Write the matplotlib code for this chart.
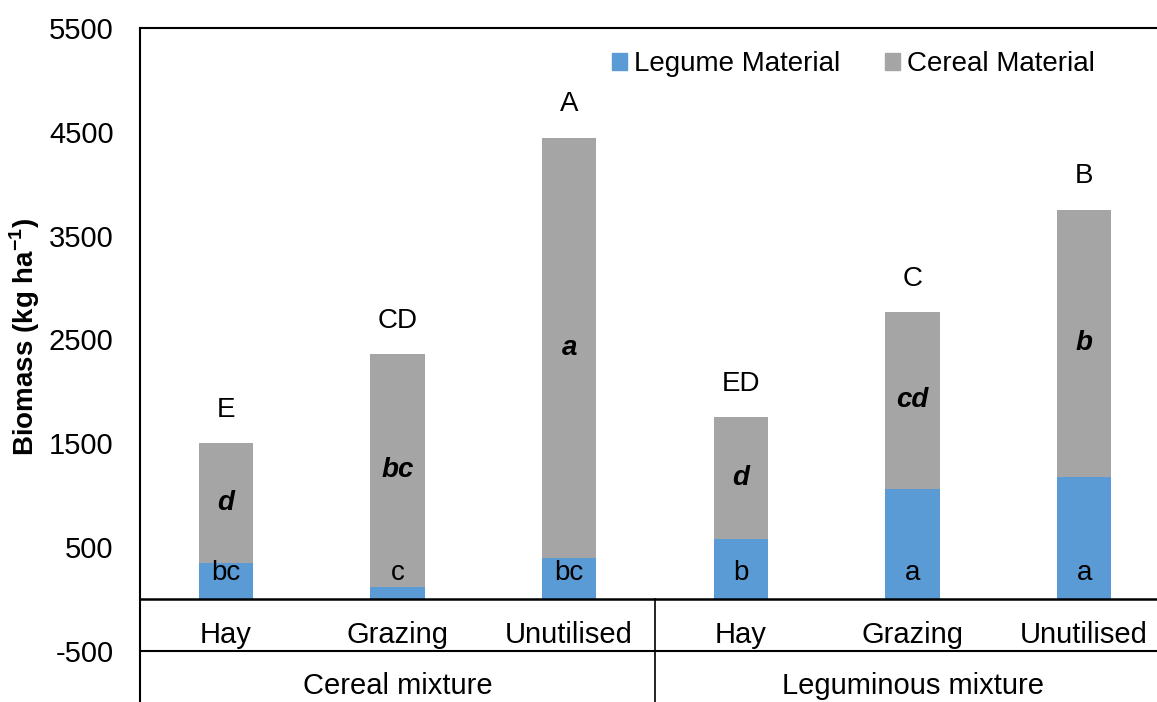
import matplotlib
matplotlib.use('Agg')
import matplotlib.pyplot as plt
from matplotlib.patches import Patch
import numpy as np

plt.rcParams['font.family'] = ['Liberation Sans', 'DejaVu Sans']
plt.rcParams['axes.unicode_minus'] = False
plt.rcParams['mathtext.fontset'] = 'custom'
plt.rcParams['mathtext.rm'] = 'Liberation Sans'
plt.rcParams['mathtext.bf'] = 'Liberation Sans:bold'

# biomass per treatment (kg/ha)
treatments = ['Hay', 'Grazing', 'Unutilised', 'Hay', 'Grazing', 'Unutilised']
groups = ['Cereal mixture', 'Leguminous mixture']
legume = [350, 120, 400, 580, 1065, 1180]
cereal = [1150, 2240, 4045, 1175, 1700, 2570]

# significance letters
total_letters = ['E', 'CD', 'A', 'ED', 'C', 'B']
cereal_letters = ['d', 'bc', 'a', 'd', 'cd', 'b']
legume_letters = ['bc', 'c', 'bc', 'b', 'a', 'a']

blue = '#5B9BD5'
grey = '#A5A5A5'
fs = 21

W, H = 1157, 702
fig = plt.figure(figsize=(W / 100, H / 100), dpi=100)
ax = fig.add_axes([140 / W, 0, 1030 / W, 1 - 28 / H])

x = np.arange(len(treatments))
bw = 0.315
legume = np.array(legume)
cereal = np.array(cereal)
total = legume + cereal

ax.bar(x, legume, bw, color=blue, label='Legume Material')
ax.bar(x, cereal, bw, bottom=legume, color=grey, label='Cereal Material')

for i in range(len(x)):
    ax.annotate(total_letters[i], (x[i], total[i]), xytext=(0, 24),
                textcoords='offset points', ha='center', va='center', fontsize=20)
    ax.text(x[i], legume[i] + cereal[i] / 2, cereal_letters[i], ha='center', va='center',
            fontsize=20, fontweight='bold', style='italic')
    ax.text(x[i], 255, legume_letters[i], ha='center', va='center', fontsize=20)

ymin = -500 - 51 / ((651 - 28) / 6000)
ax.set_xlim(-0.5, 5.5)
ax.set_ylim(ymin, 5500)
ax.set_yticks(np.arange(-500, 5501, 1000))
ax.set_xticks([])
ax.tick_params(axis='y', length=0, pad=19, labelsize=fs)

for s in ['right', 'bottom']:
    ax.spines[s].set_visible(False)
for s in ['left', 'top']:
    ax.spines[s].set_linewidth(1.5)

# two-level category axis
ax.axhline(0, color='black', lw=1.8, clip_on=False)
ax.axhline(-500, color='black', lw=1.5)
ax.plot([2.5, 2.5], [ymin, 0], color='black', lw=1.2)
for i, t in enumerate(treatments):
    ax.text(x[i], -350, t, ha='center', va='center', fontsize=fs)
for j, g in enumerate(groups):
    ax.text(1 + 3 * j, -840, g, ha='center', va='center', fontsize=fs)

fig.text(25 / W, 1 - 337 / H, r'Biomass (kg ha$^{\mathbf{-1}}$)', rotation=90,
         ha='center', va='center', fontsize=20, fontweight='bold')

handles = [Patch(color=blue), Patch(color=grey)]
fig.legend(handles, ['Legume Material', 'Cereal Material'], loc='center left',
           bbox_to_anchor=(612 / W, 1 - 64 / H), ncol=2, frameon=False, fontsize=20,
           handlelength=0.55, handleheight=0.55, handletextpad=0.25, columnspacing=1.6,
           borderpad=0, borderaxespad=0)

fig.savefig('out.png', dpi=100)
